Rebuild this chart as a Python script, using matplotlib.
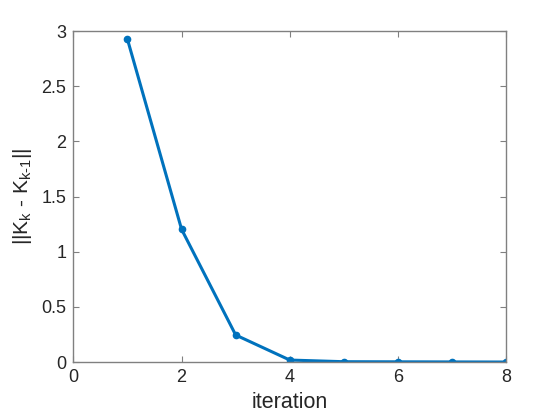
import matplotlib
matplotlib.use("Agg")
import matplotlib.pyplot as plt

plt.rcParams['font.family'] = ['Liberation Sans', 'DejaVu Sans']
plt.rcParams['mathtext.fontset'] = 'custom'
plt.rcParams['mathtext.rm'] = 'Liberation Sans'
plt.rcParams['mathtext.default'] = 'regular'

# data
iteration = [1, 2, 3, 4, 5, 6, 7, 8]
diff_norm = [2.925, 1.203, 0.245, 0.018, 0.003, 0.002, 0.001, 0.0]

x_ticks = [0, 2, 4, 6, 8]
y_ticks = [0, 0.5, 1, 1.5, 2, 2.5, 3]
y_ticklabels = ['0', '0.5', '1', '1.5', '2', '2.5', '3']

fig = plt.figure(figsize=(5.6, 4.2), dpi=100)
ax = fig.add_axes([0.131, 0.138, 0.773, 0.788])

ax.plot(iteration, diff_norm, color='#0072BD', linewidth=2.2,
        marker='.', markersize=9)

ax.set_xlim(0, 8)
ax.set_ylim(0, 3)
ax.set_xticks(x_ticks)
ax.set_yticks(y_ticks)
ax.set_yticklabels(y_ticklabels)

for s in ax.spines.values():
    s.set_color('#808080')
    s.set_linewidth(1.0)
ax.tick_params(direction='in', length=4, width=0.8, color='#808080',
               labelcolor='#262626', labelsize=13,
               top=True, right=True, pad=5)

ax.set_xlabel('iteration', fontsize=15.5, color='#262626', labelpad=4)
ax.set_ylabel(r'||K$_{k}$ - K$_{k\text{-}1}$||', fontsize=15, color='#262626', labelpad=5)

fig.savefig('out.png', dpi=100)
